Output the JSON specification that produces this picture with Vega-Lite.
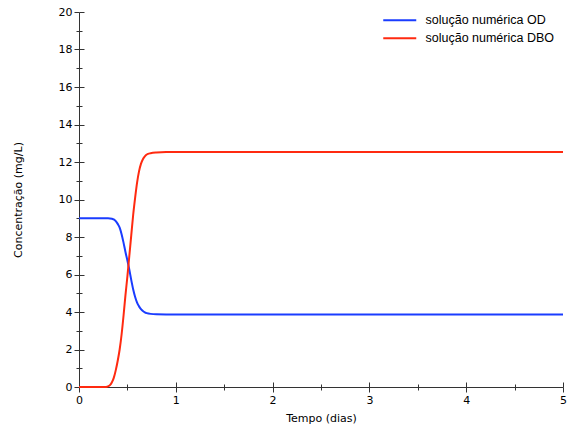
{
  "$schema": "https://vega.github.io/schema/vega-lite/v6.json",
  "width": 484,
  "height": 375,
  "autosize": "none",
  "padding": {"left": 79, "top": 12, "right": 16, "bottom": 41},
  "background": "white",
  "config": {"view": {"stroke": null}},
  "data": {"values": [
    {"t": 0, "v": 9.0, "s": "solução numérica OD"},
    {"t": 0.30, "v": 9.0, "s": "solução numérica OD"},
    {"t": 0.34, "v": 8.97, "s": "solução numérica OD"},
    {"t": 0.38, "v": 8.85, "s": "solução numérica OD"},
    {"t": 0.40, "v": 8.7, "s": "solução numérica OD"},
    {"t": 0.42, "v": 8.5, "s": "solução numérica OD"},
    {"t": 0.44, "v": 8.15, "s": "solução numérica OD"},
    {"t": 0.46, "v": 7.7, "s": "solução numérica OD"},
    {"t": 0.48, "v": 7.2, "s": "solução numérica OD"},
    {"t": 0.50, "v": 6.75, "s": "solução numérica OD"},
    {"t": 0.52, "v": 6.25, "s": "solução numérica OD"},
    {"t": 0.54, "v": 5.7, "s": "solução numérica OD"},
    {"t": 0.56, "v": 5.2, "s": "solução numérica OD"},
    {"t": 0.58, "v": 4.8, "s": "solução numérica OD"},
    {"t": 0.60, "v": 4.5, "s": "solução numérica OD"},
    {"t": 0.62, "v": 4.3, "s": "solução numérica OD"},
    {"t": 0.64, "v": 4.15, "s": "solução numérica OD"},
    {"t": 0.66, "v": 4.05, "s": "solução numérica OD"},
    {"t": 0.68, "v": 3.98, "s": "solução numérica OD"},
    {"t": 0.70, "v": 3.94, "s": "solução numérica OD"},
    {"t": 0.74, "v": 3.9, "s": "solução numérica OD"},
    {"t": 0.80, "v": 3.88, "s": "solução numérica OD"},
    {"t": 1.0, "v": 3.87, "s": "solução numérica OD"},
    {"t": 5.0, "v": 3.87, "s": "solução numérica OD"},
    {"t": 0, "v": 0, "s": "solução numérica DBO"},
    {"t": 0.28, "v": 0, "s": "solução numérica DBO"},
    {"t": 0.30, "v": 0.03, "s": "solução numérica DBO"},
    {"t": 0.32, "v": 0.1, "s": "solução numérica DBO"},
    {"t": 0.34, "v": 0.25, "s": "solução numérica DBO"},
    {"t": 0.36, "v": 0.5, "s": "solução numérica DBO"},
    {"t": 0.38, "v": 0.9, "s": "solução numérica DBO"},
    {"t": 0.40, "v": 1.4, "s": "solução numérica DBO"},
    {"t": 0.42, "v": 2.0, "s": "solução numérica DBO"},
    {"t": 0.44, "v": 2.8, "s": "solução numérica DBO"},
    {"t": 0.46, "v": 3.8, "s": "solução numérica DBO"},
    {"t": 0.48, "v": 4.9, "s": "solução numérica DBO"},
    {"t": 0.50, "v": 5.9, "s": "solução numérica DBO"},
    {"t": 0.52, "v": 7.0, "s": "solução numérica DBO"},
    {"t": 0.54, "v": 8.1, "s": "solução numérica DBO"},
    {"t": 0.56, "v": 9.2, "s": "solução numérica DBO"},
    {"t": 0.58, "v": 10.1, "s": "solução numérica DBO"},
    {"t": 0.60, "v": 10.9, "s": "solução numérica DBO"},
    {"t": 0.62, "v": 11.5, "s": "solução numérica DBO"},
    {"t": 0.64, "v": 11.9, "s": "solução numérica DBO"},
    {"t": 0.66, "v": 12.15, "s": "solução numérica DBO"},
    {"t": 0.68, "v": 12.3, "s": "solução numérica DBO"},
    {"t": 0.70, "v": 12.4, "s": "solução numérica DBO"},
    {"t": 0.74, "v": 12.47, "s": "solução numérica DBO"},
    {"t": 0.80, "v": 12.51, "s": "solução numérica DBO"},
    {"t": 0.90, "v": 12.53, "s": "solução numérica DBO"},
    {"t": 1.0, "v": 12.53, "s": "solução numérica DBO"},
    {"t": 5.0, "v": 12.53, "s": "solução numérica DBO"}
  ]},
  "resolve": {"axis": {"x": "independent", "y": "independent"}},
  "layer": [
    {
      "mark": {"type": "line", "strokeWidth": 2, "interpolate": "monotone"},
      "encoding": {
        "x": {
          "field": "t", "type": "quantitative",
          "scale": {"domain": [0, 5], "nice": false},
          "axis": {
            "title": "Tempo (dias)", "orient": "bottom",
            "values": [0, 0.5, 1, 1.5, 2, 2.5, 3, 3.5, 4, 4.5, 5],
            "labelExpr": "datum.value % 1 === 0 ? format(datum.value, 'd') : ''",
            "labelFlush": false,
            "tickSize": {"condition": {"test": "datum.value % 1 === 0", "value": 5}, "value": 3},
            "grid": false,
            "domainColor": "#333333", "tickColor": "#333333",
            "labelFont": "DejaVu Sans", "labelFontSize": 11, "labelColor": "#000000",
            "titleFont": "DejaVu Sans", "titleFontSize": 11, "titleFontWeight": "normal", "titleColor": "#000000",
            "labelPadding": 2, "titlePadding": 7
          }
        },
        "y": {
          "field": "v", "type": "quantitative",
          "scale": {"domain": [0, 20], "nice": false},
          "axis": {
            "title": "Concentração (mg/L)", "orient": "left",
            "values": [0,1,2,3,4,5,6,7,8,9,10,11,12,13,14,15,16,17,18,19,20],
            "labelExpr": "datum.value % 2 === 0 ? datum.label : ''",
            "labelFlush": false,
            "tickSize": {"condition": {"test": "datum.value % 2 === 0", "value": 5}, "value": 3},
            "grid": false,
            "domainColor": "#333333", "tickColor": "#333333",
            "labelFont": "DejaVu Sans", "labelFontSize": 11, "labelColor": "#000000",
            "titleFont": "DejaVu Sans", "titleFontSize": 11, "titleFontWeight": "normal", "titleColor": "#000000",
            "labelPadding": 2, "titlePadding": 35
          }
        },
        "color": {
          "field": "s", "type": "nominal",
          "scale": {"domain": ["solução numérica OD", "solução numérica DBO"], "range": ["#1a3cff", "#ff2a10"]},
          "legend": {
            "title": null, "orient": "none", "legendX": 303, "legendY": 2,
            "symbolType": "M-1,0H5.6", "symbolSize": 100, "symbolStrokeWidth": 2,
            "labelFont": "Liberation Sans", "labelFontSize": 12.5, "labelColor": "#000000",
            "rowPadding": 5, "labelOffset": 31
          }
        }
      }
    },
    {
      "mark": {"type": "line", "opacity": 0},
      "encoding": {
        "x": {
          "field": "t", "type": "quantitative",
          "axis": {
            "title": null, "orient": "bottom", "offset": 0, "labels": false, "domain": false,
            "values": [0, 0.5, 1, 1.5, 2, 2.5, 3, 3.5, 4, 4.5, 5],
            "tickSize": {"condition": {"test": "datum.value % 1 === 0", "value": -5}, "value": -3},
            "grid": false, "tickColor": "#333333"
          }
        },
        "y": {
          "field": "v", "type": "quantitative",
          "axis": {
            "title": null, "orient": "left", "offset": 0, "labels": false, "domain": false,
            "values": [0,1,2,3,4,5,6,7,8,9,10,11,12,13,14,15,16,17,18,19,20],
            "tickSize": {"condition": {"test": "datum.value % 2 === 0", "value": -5}, "value": -3},
            "grid": false, "tickColor": "#333333"
          }
        },
        "detail": {"field": "s", "type": "nominal"}
      }
    }
  ]
}
